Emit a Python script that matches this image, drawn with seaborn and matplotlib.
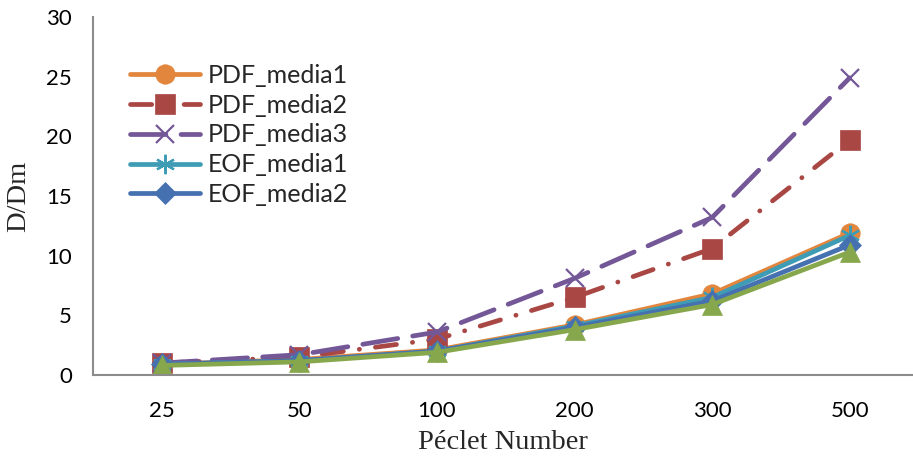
import matplotlib
matplotlib.use("Agg")
import matplotlib.pyplot as plt
import seaborn as sns
import pandas as pd
from matplotlib.ticker import FixedLocator

peclet = ["25", "50", "100", "200", "300", "500"]
pdf_media1 = [0.9, 1.3, 2.1, 4.2, 6.8, 11.9]
pdf_media2 = [1.0, 1.5, 3.0, 6.5, 10.6, 19.7]
pdf_media3 = [1.0, 1.7, 3.6, 8.1, 13.2, 24.9]
eof_media1 = [0.9, 1.2, 2.0, 4.1, 6.5, 11.7]
eof_media2 = [0.9, 1.2, 2.0, 4.0, 6.2, 10.9]
eof_media3 = [0.8, 1.1, 1.9, 3.8, 5.9, 10.3]

series = [
    ("PDF_media1", pdf_media1, "#E2863D", "o", "-", 14),
    ("PDF_media2", pdf_media2, "#A94744", "s", (0, (4.5, 3.4, 0.05, 3.4)), 14),
    ("PDF_media3", pdf_media3, "#735797", "x", (0, (7.5, 3.2)), 13),
    ("EOF_media1", eof_media1, "#3E9DB5", (6, 2, 0), "-", 14),
    ("EOF_media2", eof_media2, "#4671B0", "D", "-", 11),
    ("EOF_media3", eof_media3, "#87A74C", "^", "-", 15),
]

sns.set_style("white")
fig = plt.figure(figsize=(9.13, 4.57), dpi=100)
ax = fig.add_axes([93 / 913, 1 - 375 / 457, 820 / 913, 358 / 457])

handles = []
for name, vals, color, mk, ls, ms in series:
    df = pd.DataFrame({"x": peclet, "y": vals})
    sns.lineplot(data=df, x="x", y="y", ax=ax, color=color, sort=False,
                 linewidth=3.4, linestyle=ls, marker=mk, markersize=ms,
                 markeredgecolor=color, markeredgewidth=1.6 if mk in ("x", (6, 2, 0)) else 0.5,
                 dash_capstyle="round", solid_capstyle="round",
                 label=name, legend=False)
    handles.append(ax.lines[-1])

ax.set_xlim(-0.5, 5.46)
ax.set_ylim(0, 30)
ax.set_yticks([0, 5, 10, 15, 20, 25, 30])
ax.set_xticks(range(len(peclet)))
ax.set_xticklabels(peclet)
ax.xaxis.set_minor_locator(FixedLocator([k + 0.5 for k in range(-1, 6)]))
ax.tick_params(axis="x", which="major", length=0, pad=19)
ax.tick_params(axis="x", which="minor", length=6, width=1.5, color="#8c8c8c", direction="in")
ax.tick_params(axis="y", which="major", length=6, width=1.5, color="#8c8c8c", direction="out", pad=9)

for lab in ax.get_xticklabels() + ax.get_yticklabels():
    lab.set_fontfamily("Lato")
    lab.set_fontsize(16)
    lab.set_color("black")

for s in ["top", "right"]:
    ax.spines[s].set_visible(False)
for s in ["left", "bottom"]:
    ax.spines[s].set_color("#8c8c8c")
    ax.spines[s].set_linewidth(1.5)

ax.set_xlabel("Péclet Number", fontfamily="Liberation Serif", fontsize=20.5, labelpad=6)
ax.set_ylabel("D/Dm", fontfamily="Liberation Serif", fontsize=20.5, labelpad=11)

leg = ax.legend(handles=handles[:5], labels=[s[0] for s in series[:5]],
                loc="upper left", bbox_to_anchor=(130 / 913, 1 - 64 / 457),
                bbox_transform=fig.transFigure, frameon=False,
                prop={"family": "Lato", "size": 18}, handlelength=2.8,
                handletextpad=0.3, labelspacing=0.27, borderaxespad=0, borderpad=0)

fig.savefig("out.png", dpi=100)
